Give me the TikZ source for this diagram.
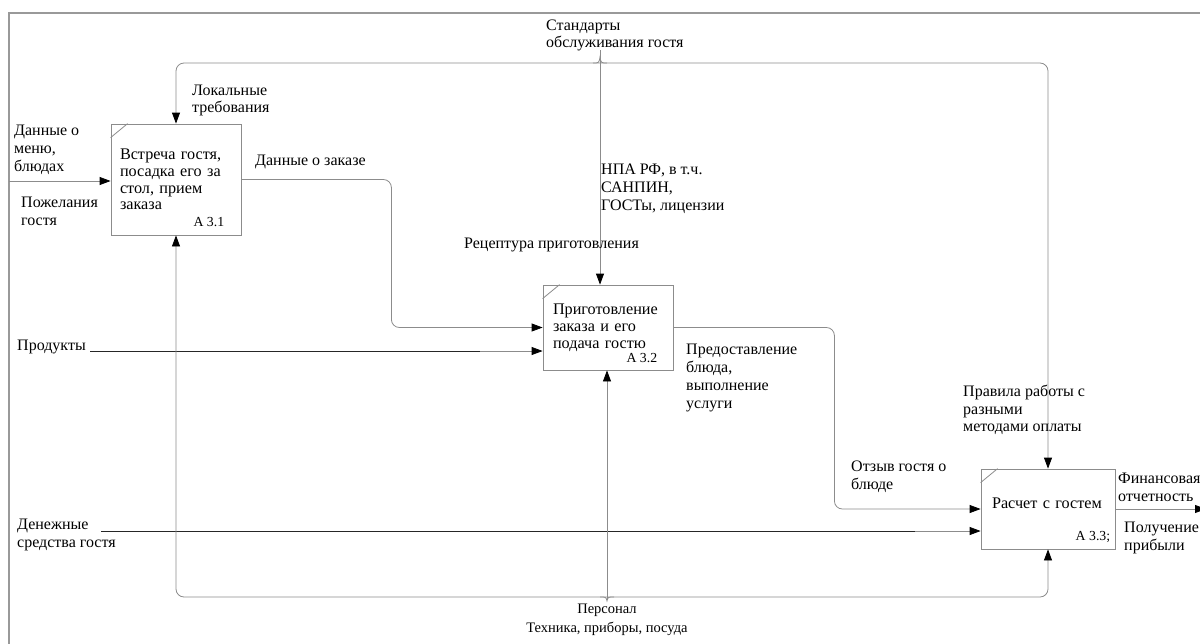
\documentclass[tikz,border=0pt]{standalone}
\usepackage{fontspec}
\setmainfont{Liberation Serif}
\usetikzlibrary{arrows.meta,positioning,calc}

\newcommand{\boxfont}{\fontsize{16.2}{16.8}\selectfont}
\newcommand{\txtfont}{\fontsize{16}{17.8}\selectfont}
\newcommand{\smfont}{\fontsize{14.5}{19}\selectfont}
\newcommand{\numfont}{\fontsize{13.8}{14}\selectfont}

\tikzset{
	func/.style={draw=black!45, line width=0.8pt, fill=white, align=left, inner xsep=0pt, font=\boxfont},
	num/.style={font=\numfont, inner sep=0pt},
	lbl/.style={font=\txtfont, align=left, anchor=west, inner sep=0pt},
	conn/.style={draw=black!45, line width=0.8pt, rounded corners=8pt},
	dark/.style={draw=black!85, line width=0.8pt},
	tip/.style={-{Triangle[length=11pt,width=8pt,black]}},
	tips/.style={{Triangle[length=11pt,width=8pt,black]}-{Triangle[length=11pt,width=8pt,black]}}
}

\begin{document}
\begin{tikzpicture}[x=1pt,y=-1pt]
	\useasboundingbox (0,0) rectangle (1200,643);

	% Frame
	\draw[black!40, line width=1.2pt] (9,650) -- (9,13) -- (1210,13);

	% Function boxes
	\node[func, minimum width=130, minimum height=111, text width=112] (a31) at (176,179.5)
		{Встреча гостя,\\посадка его за\\стол, прием\\заказа};
	\node[func, minimum width=130, minimum height=85, text width=110] (a32) at (608,327.5)
		{Приготовление\\заказа и его\\подача гостю};
	\node[func, minimum width=134, minimum height=80, text width=112, text depth=12.5pt] (a33) at (1048,509)
		{Расчет с гостем};
	\node[num, anchor=base east] (n31) at ([shift={(-17,-9)}]a31.south east) {А 3.1};
	\node[num, anchor=base east] (n32) at ([shift={(-16,-8)}]a32.south east) {А 3.2};
	\node[num, anchor=base east] (n33) at ([shift={(-5,-9)}]a33.south east) {А 3.3;};
	\foreach \b in {a31,a32,a33}
		\draw[black!45, line width=0.8pt] ([shift={(0,14)}]\b.north west) -- ([shift={(17,0)}]\b.north west);

	% Free ends
	\coordinate (ctl) at (600,63);
	\coordinate (std) at (600,50);
	\coordinate (mch) at (607,597);
	\coordinate (per) at (607,600);
	\coordinate (menu) at (9,181);
	\coordinate (prod) at (90,351);
	\coordinate (money) at (101,531);
	\coordinate (fin) at (1206,509);

	% Controls
	\draw[conn, tips] (a31.north) -- (a31.north |- ctl) -- (a33.north |- ctl) -- (a33.north);
	\draw[conn, tip] (std) -- (std |- a32.north);
	\draw[black!45, line width=0.8pt] (593,63) .. controls (599,63) .. (600,57) .. controls (601,63) .. (607,63);

	% Inputs
	\draw[conn, tip] (menu) -- (menu -| a31.west);
	\draw[conn, tip] (prod) -- (prod -| a32.west);
	\draw[dark] (prod) -- (480,351);
	\draw[conn, tip] (money) -- (money -| a33.west);
	\draw[dark] (money) -- (915,531);
	\draw[conn, tip] (a31.east) -- ++(150,0) |- (a32.west);
	\draw[conn, tip] (a32.east) -- ++(161,0) |- (a33.west);

	% Output
	\draw[conn, tip] (a33.east) -- (fin);

	% Mechanisms
	\draw[conn, tips] (a31.south) -- (a31.south |- mch) -- (a33.south |- mch) -- (a33.south);
	\draw[conn, tip] (per) -- (per |- a32.south);
	\draw[black!45, line width=0.8pt] (600,597) .. controls (606,597) .. (607,601) .. controls (608,597) .. (614,597);

	% Labels
	\node[lbl] (lmenu) at (14,150) {Данные о\\меню,\\блюдах};
	\node[lbl] (lwish) at (21,211.5) {Пожелания\\гостя};
	\node[lbl] (lloc) at (192,100.5) {Локальные\\требования};
	\node[lbl] (lstd) at (546,35.5) {Стандарты\\обслуживания гостя};
	\node[lbl] (lord) at (255,162) {Данные о заказе};
	\node[lbl] (lnpa) at (601,189) {НПА РФ, в т.ч.\\САНПИН,\\ГОСТы, лицензии};
	\node[lbl] (lrec) at (464,245) {Рецептура приготовления};
	\node[lbl] (lprod) at (17,347) {Продукты};
	\node[lbl] (ldish) at (686,378) {Предоставление\\блюда,\\выполнение\\услуги};
	\node[lbl] (lpay) at (963,410) {Правила работы с\\разными\\методами оплаты};
	\node[lbl] (lrev) at (851,477) {Отзыв гостя о\\блюде};
	\node[lbl] (lfin) at (1118,487) {Финансовая\\отчетность};
	\node[lbl] (lmoney) at (17,535) {Денежные\\средства гостя};
	\node[lbl] (lprof) at (1124,538) {Получение\\прибыли};
	\node[lbl, font=\smfont, align=center, anchor=center] (lper) at (607,619.5) {Персонал\\Техника, приборы, посуда};

\end{tikzpicture}
\end{document}
